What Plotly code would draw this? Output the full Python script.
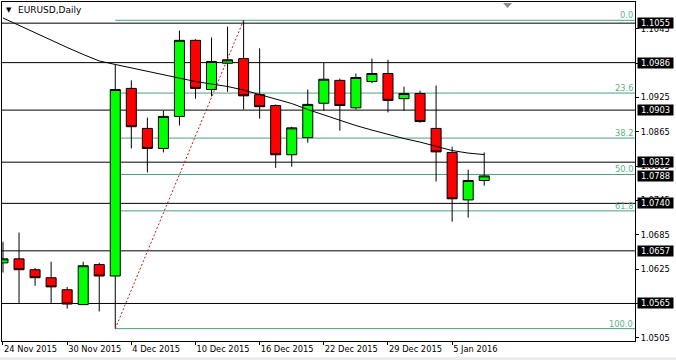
import plotly.graph_objects as go

# ---------------- data ----------------
dates = ["2015-11-24", "2015-11-25", "2015-11-26", "2015-11-27", "2015-11-30",
         "2015-12-01", "2015-12-02", "2015-12-03", "2015-12-04", "2015-12-07",
         "2015-12-08", "2015-12-09", "2015-12-10", "2015-12-11", "2015-12-14",
         "2015-12-15", "2015-12-16", "2015-12-17", "2015-12-18", "2015-12-21",
         "2015-12-22", "2015-12-23", "2015-12-24", "2015-12-28", "2015-12-29",
         "2015-12-30", "2015-12-31", "2016-01-04", "2016-01-05", "2016-01-06",
         "2016-01-07"]
opens = [1.0636, 1.0643, 1.0624, 1.0610, 1.0589, 1.0563, 1.0633, 1.0613, 1.0941, 1.0871,
         1.0836, 1.0892, 1.1025, 1.0939, 1.0985, 1.0993, 1.0930, 1.0911, 1.0825, 1.0855,
         1.0915, 1.0955, 1.0907, 1.0953, 1.0967, 1.0923, 1.0932, 1.0871, 1.0829, 1.0746,
         1.0780]
highs = [1.0673, 1.0689, 1.0627, 1.0638, 1.0594, 1.0638, 1.0636, 1.0983, 1.0955, 1.0890,
         1.0902, 1.1042, 1.1027, 1.1030, 1.1049, 1.1060, 1.1011, 1.0913, 1.0874, 1.0939,
         1.0986, 1.0958, 1.0967, 1.0993, 1.0991, 1.0944, 1.0937, 1.0946, 1.0839, 1.0799,
         1.0829]
lows = [1.0619, 1.0566, 1.0596, 1.0566, 1.0556, 1.0563, 1.0551, 1.0521, 1.0836, 1.0794,
        1.0829, 1.0876, 1.0923, 1.0927, 1.0935, 1.0904, 1.0888, 1.0802, 1.0804, 1.0846,
        1.0902, 1.0867, 1.0904, 1.0950, 1.0899, 1.0902, 1.0881, 1.0778, 1.0708, 1.0715,
        1.0771]
closes = [1.0643, 1.0624, 1.0610, 1.0594, 1.0564, 1.0631, 1.0613, 1.0939, 1.0874, 1.0836,
          1.0892, 1.1025, 1.0941, 1.0988, 1.0991, 1.0928, 1.0909, 1.0825, 1.0872, 1.0913,
          1.0957, 1.0911, 1.0960, 1.0967, 1.0920, 1.0932, 1.0883, 1.0830, 1.0748, 1.0780,
          1.0788]
moving_avg = [1.10641, 1.10510, 1.10379, 1.10248, 1.10125, 1.10003, 1.09889, 1.09828,
              1.09766, 1.09705, 1.09644, 1.09583, 1.09530, 1.09486, 1.09443, 1.09381,
              1.09303, 1.09224, 1.09145, 1.09040, 1.08944, 1.08856, 1.08760, 1.08681,
              1.08603, 1.08533, 1.08471, 1.08401, 1.08323, 1.08279, 1.08253]

h_levels = [1.1055, 1.0986, 1.0903, 1.0812, 1.0740, 1.0657, 1.0565]
current_price = 1.0788
fib_pcts = [0.0, 23.6, 38.2, 50.0, 61.8, 100.0]
fib_start = 7    # 3 Dec 2015 low
fib_end = 15     # 15 Dec 2015 high
y_ticks = [1.1045, 1.0985, 1.0925, 1.0865, 1.0805, 1.0745, 1.0685, 1.0625, 1.0565, 1.0505]
x_tick_idx = [0, 4, 8, 12, 16, 20, 24, 28]
x_tick_labels = ["24 Nov 2015", "30 Nov 2015", "4 Dec 2015", "10 Dec 2015",
                 "16 Dec 2015", "22 Dec 2015", "29 Dec 2015", "5 Jan 2016"]

# ---------------- figure ----------------
idx = list(range(len(dates)))
X0, X1 = -0.062, 39.4
Y0, Y1 = 1.04994, 1.10920
FONT = "DejaVu Sans"
FIB_LINE = "#4c9f7c"
FIB_TEXT = "#62b08a"

fib_hi = highs[fib_end]
fib_lo = lows[fib_start]
fib_prices = [fib_hi - p / 100.0 * (fib_hi - fib_lo) for p in fib_pcts]

fig = go.Figure()

# fibonacci trend line (dotted red)
fig.add_trace(go.Scatter(
    x=[idx[fib_start], idx[fib_end]], y=[fib_lo, fib_hi], mode="lines",
    line=dict(color="#c01818", width=1, dash="2px,2px"), hoverinfo="skip"))

fig.add_trace(go.Candlestick(
    x=idx, open=opens, high=highs, low=lows, close=closes,
    increasing=dict(fillcolor="#00ff00", line=dict(color="black", width=1)),
    decreasing=dict(fillcolor="#ff0000", line=dict(color="black", width=1)),
    whiskerwidth=0))

fig.add_trace(go.Scatter(
    x=idx, y=moving_avg, mode="lines",
    line=dict(color="black", width=1), hoverinfo="skip"))

shapes = []
for v in h_levels:
    shapes.append(dict(type="line", xref="paper", x0=0, x1=1, yref="y", y0=v, y1=v,
                       line=dict(color="black", width=1), layer="below"))
for v in fib_prices:
    shapes.append(dict(type="line", xref="x", x0=idx[fib_start], x1=X1, yref="y", y0=v, y1=v,
                       line=dict(color=FIB_LINE, width=1), layer="below"))
# chart-shift marker
shapes.append(dict(type="path", xref="paper", yref="paper",
                   path="M 0.7915 0.9970 L 0.8057 0.9970 L 0.7986 0.9823 Z",
                   fillcolor="#8c8c8c", line=dict(width=0)))
# window bottom strip
shapes.append(dict(type="rect", xref="paper", yref="paper", x0=-0.01, x1=1.1,
                   y0=-0.0472, y1=-0.07, fillcolor="#ececec", line=dict(width=0)))

annotations = []
for v in h_levels + [current_price]:
    annotations.append(dict(xref="paper", x=1, xanchor="left", xshift=2, yref="y", y=v,
                            yanchor="middle", text=f"{v:.4f}", showarrow=False,
                            font=dict(family=FONT, size=8.3, color="white"),
                            bgcolor="black", width=35, height=10, borderpad=0))
for p, v in zip(fib_pcts, fib_prices):
    annotations.append(dict(xref="paper", x=1, xanchor="right", xshift=-1, yref="y", y=v,
                            yanchor="bottom", yshift=-1, text=f"{p:.1f}", showarrow=False,
                            font=dict(family=FONT, size=8.3, color=FIB_TEXT), borderpad=0))
annotations.append(dict(xref="paper", x=0, xanchor="left", xshift=3, yref="paper", y=1,
                        yanchor="middle", yshift=-8, text="▼", showarrow=False,
                        font=dict(family=FONT, size=7, color="black"), borderpad=0))
annotations.append(dict(xref="paper", x=0, xanchor="left", xshift=15, yref="paper", y=1,
                        yanchor="middle", yshift=-8, text="EURUSD,Daily", showarrow=False,
                        font=dict(family=FONT, size=9, color="black"), borderpad=0))

fig.update_layout(
    width=676, height=360,
    margin=dict(l=2, r=41, t=2, b=19),
    paper_bgcolor="white", plot_bgcolor="white",
    showlegend=False, boxgap=0.375, boxgroupgap=0,
    font=dict(family=FONT, size=8.3, color="black"),
    shapes=shapes, annotations=annotations,
    xaxis=dict(range=[X0, X1], tickvals=x_tick_idx, ticktext=x_tick_labels,
               ticks="outside", ticklen=3, tickcolor="black", showgrid=False,
               zeroline=False, showline=True, linecolor="black", linewidth=1,
               mirror=True, ticklabelposition="outside right",
               rangeslider=dict(visible=False), fixedrange=True),
    yaxis=dict(range=[Y0, Y1], side="right", tickvals=y_ticks,
               ticktext=[f"{v:.4f}" for v in y_ticks], ticks="outside", ticklen=3,
               tickcolor="black", showgrid=False, zeroline=False, showline=True,
               linecolor="black", linewidth=1, mirror=True, fixedrange=True),
)

fig.write_html("out.html", config={"displayModeBar": False},
               post_script="document.body.style.margin='0';")
